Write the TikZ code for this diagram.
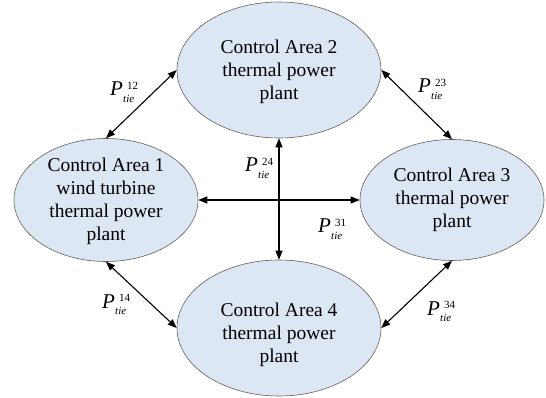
\documentclass[tikz,border=0pt]{standalone}
\usepackage{fontspec}
\setmainfont{Liberation Serif}
\usetikzlibrary{shapes.geometric,arrows.meta}
\definecolor{areafill}{RGB}{221,231,244}
\definecolor{areadraw}{RGB}{95,95,95}
\newcommand\Ptie[1]{\rlap{\fontsize{21}{21}\selectfont\itshape P}\hspace*{13pt}\rlap{\raisebox{-6.7pt}{\fontsize{11}{11}\selectfont\itshape tie}}\hspace*{4pt}\raisebox{6.5pt}{\fontsize{11}{11}\selectfont #1}}
\begin{document}
\begin{tikzpicture}[x=1pt,y=-1pt,
  area/.style={ellipse,draw=areadraw,fill=areafill,line width=0.6pt,inner sep=0pt},
  areatext/.style={align=center,inner sep=0pt,font=\fontsize{19.5}{23}\selectfont},
  tie/.style={line width=1.1pt,{Triangle[length=9pt,width=7pt]}-{Triangle[length=9pt,width=7pt]}},
  tielabel/.style={anchor=base west,inner sep=0pt}]
\useasboundingbox (0,0) rectangle (546,398);
\node[area,minimum width=204pt,minimum height=136pt] (a2) at (279,70) {};
\node[area,minimum width=184pt,minimum height=123pt] (a1) at (106,200) {};
\node[area,minimum width=184pt,minimum height=121pt] (a3) at (452,200) {};
\node[area,minimum width=204pt,minimum height=136pt] (a4) at (279,328) {};
\node[areatext] (t2) at (279,72) {Control Area 2\\thermal power\\plant};
\node[areatext] (t1) at (106,201) {Control Area 1\\wind turbine\\thermal power\\plant};
\node[areatext] (t3) at (452,200) {Control Area 3\\thermal power\\plant};
\node[areatext] (t4) at (279,335) {Control Area 4\\thermal power\\plant};
\draw[tie] (a1.north) -- (a2.west);
\draw[tie] (a2.east) -- (a3.north);
\draw[tie] (a1.south) -- (a4.west);
\draw[tie] (a3.south) -- (a4.east);
\draw[tie] (a1.east) -- (a3.west);
\draw[tie] (a2.south) -- (a4.north);
\node[tielabel] (l12) at (110,96) {\Ptie{12}};
\node[tielabel] (l23) at (418,93) {\Ptie{23}};
\node[tielabel] (l24) at (245,172) {\Ptie{24}};
\node[tielabel] (l31) at (318,233) {\Ptie{31}};
\node[tielabel] (l14) at (102,308) {\Ptie{14}};
\node[tielabel] (l34) at (427,315) {\Ptie{34}};
\end{tikzpicture}
\end{document}
